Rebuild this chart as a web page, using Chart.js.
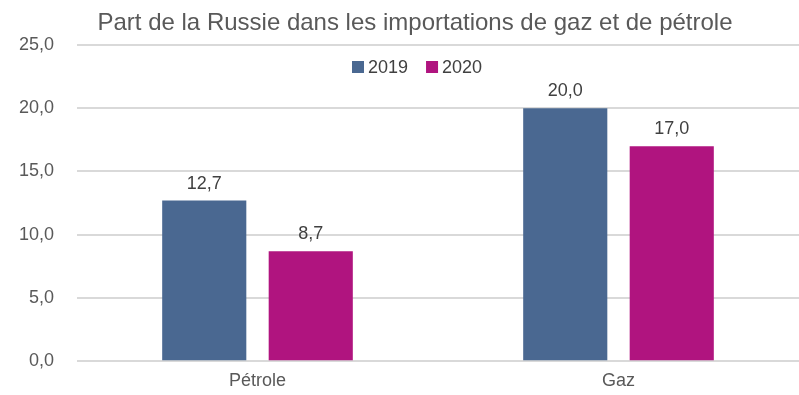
<!DOCTYPE html>
<html>
<head>
<meta charset="utf-8">
<style>
  html, body { margin: 0; padding: 0; background: #fff; }
  #wrap { width: 799px; height: 395px; }
</style>
<script src="https://cdn.jsdelivr.net/npm/chart.js@4.4.0/dist/chart.umd.min.js"></script>
</head>
<body>
<div id="wrap"><canvas id="grafica"></canvas></div>
<script>
const titre = "Part de la Russie dans les importations de gaz et de pétrole";
const categories = ["Pétrole", "Gaz"];
const series2019 = [12.7, 20.0];
const series2020 = [8.7, 17.0];
const annees = ["2019", "2020"];
const couleurs = ["#4a6891", "#b0147f"];

const gris = "#595959";
const police = "'Liberation Sans', Arial, sans-serif";
const fmt = v => v.toFixed(1).replace(".", ",");

// titre, légende et étiquettes de valeurs dessinés à la main
const decor = {
    id: "decor",
    afterDatasetsDraw(chart) {
        const c = chart.ctx;
        c.save();
        c.fillStyle = "#404040";
        c.font = "18px " + police;
        c.textAlign = "center";
        c.textBaseline = "alphabetic";
        chart.data.datasets.forEach((ds, i) => {
            chart.getDatasetMeta(i).data.forEach((bar, j) => {
                c.fillText(fmt(ds.data[j]), bar.x, bar.y - 12);
            });
        });

        c.fillStyle = gris;
        c.font = "24px " + police;
        c.fillText(titre, 415, 30);

        // légende
        c.font = "18px " + police;
        c.textAlign = "left";
        let x = 352;
        chart.data.datasets.forEach((ds) => {
            c.fillStyle = ds.backgroundColor;
            c.fillRect(x, 61, 12, 12);
            c.fillStyle = "#404040";
            c.fillText(ds.label, x + 16, 73);
            x += 16 + c.measureText(ds.label).width + 18;
        });
        c.restore();
    }
};

const ctx = document.getElementById("grafica").getContext("2d");
const grafica = new Chart(ctx, {
    type: "bar",
    data: {
        labels: categories,
        datasets: [
            { label: annees[0], data: series2019, backgroundColor: couleurs[0] },
            { label: annees[1], data: series2020, backgroundColor: couleurs[1] }
        ]
    },
    options: {
        responsive: true,
        maintainAspectRatio: false,
        animation: false,
        layout: { padding: { top: 45, right: 0, left: 0, bottom: 0 } },
        categoryPercentage: 0.59,
        barPercentage: 0.79,
        plugins: {
            legend: { display: false },
            title: { display: false },
            tooltip: { enabled: false }
        },
        scales: {
            x: {
                grid: { display: false },
                border: { display: false },
                afterFit: (axis) => { axis.height = 32; },
                ticks: {
                    color: gris,
                    padding: 1,
                    font: { family: police, size: 18 }
                }
            },
            y: {
                min: 0,
                max: 25,
                border: { display: false },
                grid: { color: "#d9d9d9", lineWidth: 2, drawTicks: false },
                afterFit: (axis) => { axis.width = 77; },
                ticks: {
                    stepSize: 5,
                    color: gris,
                    padding: 23,
                    font: { family: police, size: 18 },
                    callback: v => fmt(v)
                }
            }
        }
    },
    plugins: [decor]
});
</script>
</body>
</html>
